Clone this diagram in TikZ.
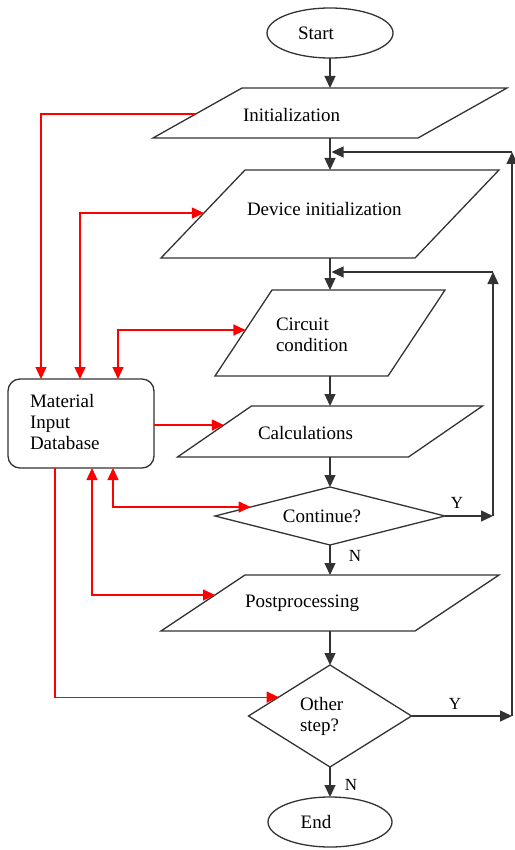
\documentclass[tikz,border=0pt]{standalone}
\usepackage{fontspec}
\setmainfont{Liberation Serif}
\usetikzlibrary{shapes.geometric,arrows.meta,calc}
\begin{document}
\begin{tikzpicture}[x=1pt,y=-1pt,
  every node/.style={font=\fontsize{19}{21}\selectfont},
  box/.style={inner sep=0pt, outer sep=0pt},
  shp/.style={draw=black!80, line width=1.3pt},
  txt/.style={inner sep=0pt, outer sep=0pt, anchor=west, align=left},
  lbl/.style={inner sep=0pt, outer sep=0pt, font=\fontsize{17}{19}\selectfont},
  tip/.tip={Triangle[width=11pt,length=12pt]},
  blk/.style={draw=black!80, line width=1.3pt, -tip},
  rd/.style={draw=red, line width=1.2pt, -tip},
  rdd/.style={draw=red, line width=1.2pt, tip-tip}]
\useasboundingbox (0,0) rectangle (514,850);

% terminals
\node[box, shp, ellipse, minimum width=126pt, minimum height=50pt] (start) at (330,33) {};
\node[lbl, font=\fontsize{19}{21}\selectfont] (startT) at (316,33) {Start};
\node[box, shp, ellipse, minimum width=124pt, minimum height=50pt] (end) at (330,822) {};
\node[lbl, font=\fontsize{19}{21}\selectfont] (endT) at (316,822) {End};

% parallelograms (bounding boxes)
\node[box, minimum width=354pt, minimum height=50pt] (init) at (330,113) {};
\draw[shp] ([xshift=89pt]init.north west) -- (init.north east) -- ([xshift=-89pt]init.south east) -- (init.south west) -- cycle;
\node[txt] (initT) at (243,115) {Initialization};

\node[box, minimum width=338pt, minimum height=88pt] (dev) at (330,214) {};
\draw[shp] ([xshift=84pt]dev.north west) -- (dev.north east) -- ([xshift=-84pt]dev.south east) -- (dev.south west) -- cycle;
\node[txt] (devT) at (247,209) {Device initialization};

\node[box, minimum width=230pt, minimum height=86pt] (circ) at (330,333) {};
\draw[shp] ([xshift=57pt]circ.north west) -- (circ.north east) -- ([xshift=-57pt]circ.south east) -- (circ.south west) -- cycle;
\node[txt] (circT) at (276,335) {Circuit\\condition};

\node[box, minimum width=305pt, minimum height=51pt] (calc) at (330,431.5) {};
\draw[shp] ([xshift=74pt]calc.north west) -- (calc.north east) -- ([xshift=-74pt]calc.south east) -- (calc.south west) -- cycle;
\node[txt] (calcT) at (258,433) {Calculations};

\node[box, minimum width=338pt, minimum height=56pt] (post) at (330,603) {};
\draw[shp] ([xshift=84pt]post.north west) -- (post.north east) -- ([xshift=-84pt]post.south east) -- (post.south west) -- cycle;
\node[txt] (postT) at (245,603) {Postprocessing};

% decisions
\node[box, shp, diamond, minimum width=230pt, minimum height=58pt] (cont) at (330,516) {};
\node[lbl, font=\fontsize{19}{21}\selectfont] (contT) at (322,516) {Continue?};
\node[box, shp, diamond, minimum width=163pt, minimum height=102pt] (oth) at (330,716) {};
\node[txt] (othT) at (300,716) {Other\\step?};

% database
\node[box, shp, rounded corners=12pt, minimum width=146pt, minimum height=89pt] (db) at (81,423.5) {};
\node[txt] (dbT) at (30,422) {Material\\Input\\Database};

% main flow
\draw[blk] (start.south) -- (init.north);
\draw[blk] (init.south) -- (dev.north);
\draw[blk] (dev.south) -- (circ.north);
\draw[blk] (circ.south) -- (calc.north);
\draw[blk] (calc.south) -- (cont.north);
\draw[blk] (cont.south) -- (post.north);
\draw[blk] (post.south) -- (oth.north);
\draw[blk] (oth.south) -- (end.north);
\node[lbl] (n1) at (355,556) {N};
\node[lbl] (n2) at (351,785) {N};

% loops
\coordinate (r1b) at (493,516);
\coordinate (r1t) at (493,272);
\draw[blk] (cont.east) -- (r1b);
\draw[blk] (r1b) -- (r1t);
\draw[blk] (r1t) -- ([xshift=1.5pt]r1t -| dev.south);
\node[lbl] (y1) at (457,503) {Y};

\coordinate (r2b) at (512,716);
\coordinate (r2t) at (512,152);
\draw[blk] (oth.east) -- (r2b);
\draw[blk] (r2b) -- (r2t);
\draw[blk] (r2t) -- ([xshift=1.5pt]r2t -| init.south);
\node[lbl] (y2) at (455,704) {Y};

% red connections to database
\coordinate (initL) at ($(init.south west)!0.48!([xshift=89pt]init.north west)$);
\coordinate (devL) at ($(dev.south west)!0.511!([xshift=84pt]dev.north west)$);
\coordinate (circL) at ($(circ.south west)!0.535!([xshift=57pt]circ.north west)$);
\coordinate (calcL) at ($(calc.south west)!0.627!([xshift=74pt]calc.north west)$);
\coordinate (contL) at ($(cont.west)!0.31!(cont.north)$);
\coordinate (postL) at ($(post.south west)!0.643!([xshift=84pt]post.north west)$);
\coordinate (othL) at ($(oth.west)!0.37!(oth.north)$);

\draw[rd] (initL) -| ([xshift=-40pt]db.north);
\draw[rdd] ([xshift=-1pt]db.north) |- (devL);
\draw[rdd] ([xshift=37pt]db.north) |- (circL);
\draw[rd] (calcL -| db.east) -- (calcL);
\draw[rdd] ([xshift=32pt]db.south) |- (contL);
\draw[rdd] ([xshift=11pt]db.south) |- (postL);
\draw[rd] ([xshift=-26pt]db.south) |- (othL);
\end{tikzpicture}
\end{document}
